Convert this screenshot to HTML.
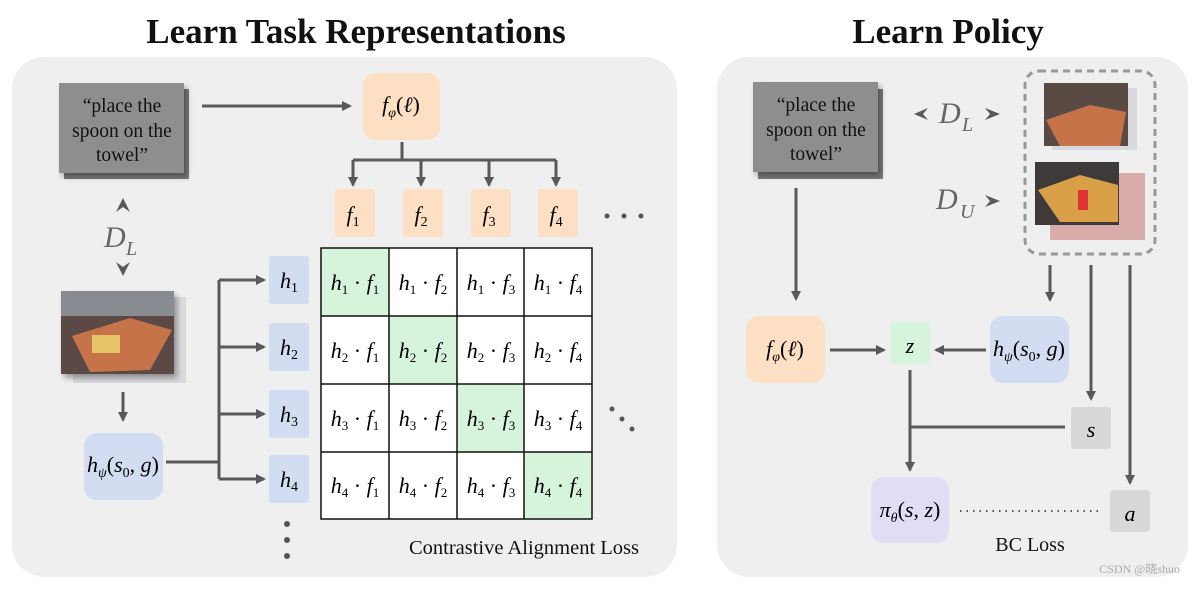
<!DOCTYPE html>
<html><head><meta charset="utf-8"><style>
body{margin:0;background:#fff;width:1195px;height:584px;overflow:hidden}
svg text{font-family:"Liberation Serif",serif}
.m{font-style:italic;font-size:22px}
.t{font-size:19.5px;fill:#111}
</style></head><body>
<svg width="1195" height="584" viewBox="0 0 1195 584" xmlns="http://www.w3.org/2000/svg">
<defs>
<marker id="ar" markerWidth="10" markerHeight="10" refX="8" refY="5" orient="auto" markerUnits="userSpaceOnUse"><path d="M0,0 L10,5 L0,10 Z" fill="#595959"/></marker>
<filter id="sh" x="-20%" y="-20%" width="150%" height="150%"><feDropShadow dx="3" dy="4" stdDeviation="3" flood-opacity="0.35"/></filter>
</defs>
<text x="356" y="43" text-anchor="middle" font-size="35" font-weight="bold" fill="#111">Learn Task Representations</text>
<text x="948" y="43" text-anchor="middle" font-size="35" font-weight="bold" fill="#111">Learn Policy</text>
<rect x="12" y="57" width="665" height="520" rx="32" fill="#efefef"/>
<rect x="717" y="57" width="471" height="520" rx="32" fill="#efefef"/>
<g stroke="#595959" stroke-width="3" fill="none">
<line x1="202" y1="106" x2="350" y2="106" marker-end="url(#ar)"/>
<line x1="402" y1="142" x2="402" y2="160"/>
<line x1="353" y1="160" x2="556" y2="160"/>
<line x1="353" y1="160" x2="353" y2="185" marker-end="url(#ar)"/>
<line x1="421" y1="160" x2="421" y2="185" marker-end="url(#ar)"/>
<line x1="489" y1="160" x2="489" y2="185" marker-end="url(#ar)"/>
<line x1="556" y1="160" x2="556" y2="185" marker-end="url(#ar)"/>
<line x1="166" y1="462" x2="219" y2="462"/>
<line x1="219" y1="280" x2="219" y2="479"/>
<line x1="219" y1="280" x2="264" y2="280" marker-end="url(#ar)"/>
<line x1="219" y1="347" x2="264" y2="347" marker-end="url(#ar)"/>
<line x1="219" y1="414" x2="264" y2="414" marker-end="url(#ar)"/>
<line x1="219" y1="479" x2="264" y2="479" marker-end="url(#ar)"/>
<line x1="123" y1="392" x2="123" y2="420" marker-end="url(#ar)"/>
<line x1="796" y1="188" x2="796" y2="299" marker-end="url(#ar)"/>
<line x1="830" y1="350" x2="884" y2="350" marker-end="url(#ar)"/>
<line x1="986" y1="350" x2="936" y2="350" marker-end="url(#ar)"/>
<line x1="1050" y1="265" x2="1050" y2="300" marker-end="url(#ar)"/>
<line x1="1091" y1="265" x2="1091" y2="399" marker-end="url(#ar)"/>
<line x1="1130" y1="265" x2="1130" y2="483" marker-end="url(#ar)"/>
<line x1="1065" y1="427" x2="910" y2="427"/>
<line x1="910" y1="370" x2="910" y2="470" marker-end="url(#ar)"/>
</g>
<line x1="960" y1="511" x2="1098" y2="511" stroke="#555" stroke-width="2" stroke-dasharray="1.5 5"/>
<rect x="64" y="89" width="125" height="90" fill="#7c7c7c"/>
<rect x="59" y="83" width="125" height="90" fill="#8e8e8e" filter="url(#sh)"/>
<text x="122" y="112" text-anchor="middle" class="t">“place the</text>
<text x="122" y="137" text-anchor="middle" class="t">spoon on the</text>
<text x="122" y="161" text-anchor="middle" class="t">towel”</text>
<path d="M116,212 L123,198 L130,212 L123,207 Z" fill="#595959"/>
<text x="104" y="247" font-size="30" font-style="italic" fill="#666">D</text><text x="126" y="255" font-size="20" font-style="italic" fill="#666">L</text>
<path d="M116,262 L123,276 L130,262 L123,267 Z" fill="#595959"/>
<rect x="73" y="297" width="113" height="86" fill="#c9ccd0" opacity="0.6"/>
<rect x="61" y="291" width="113" height="83" fill="#5a4a44" filter="url(#sh)"/>
<rect x="61" y="291" width="113" height="25" fill="#888c90"/>
<path d="M72,336 L130,318 L172,330 L150,370 L90,372 Z" fill="#c7734a"/>
<rect x="92" y="335" width="28" height="18" fill="#e5c46a"/>
<rect x="84" y="433" width="79" height="67" rx="13" fill="#d2ddf2"/>
<text x="123" y="472" text-anchor="middle" class="m">h<tspan font-size="14" dy="5">ψ</tspan><tspan dy="-5" font-style="normal">(</tspan>s<tspan font-size="14" dy="5" font-style="normal">0</tspan><tspan dy="-5" font-style="normal">, </tspan>g<tspan font-style="normal">)</tspan></text>
<rect x="363" y="73" width="77" height="67" rx="13" fill="#fde0c4"/>
<text x="401" y="112" text-anchor="middle" class="m">f<tspan font-size="14" dy="5">φ</tspan><tspan dy="-5" font-style="normal">(</tspan>ℓ<tspan font-style="normal">)</tspan></text>
<g fill="#fde0c4">
<rect x="335" y="189" width="40" height="48" rx="3"/><rect x="403" y="189" width="40" height="48" rx="3"/>
<rect x="471" y="189" width="40" height="48" rx="3"/><rect x="538" y="189" width="40" height="48" rx="3"/>
</g>
<text x="353" y="222" text-anchor="middle" class="m">f<tspan font-size="14" dy="4" font-style="normal">1</tspan></text>
<text x="421" y="222" text-anchor="middle" class="m">f<tspan font-size="14" dy="4" font-style="normal">2</tspan></text>
<text x="489" y="222" text-anchor="middle" class="m">f<tspan font-size="14" dy="4" font-style="normal">3</tspan></text>
<text x="556" y="222" text-anchor="middle" class="m">f<tspan font-size="14" dy="4" font-style="normal">4</tspan></text>
<g fill="#555"><circle cx="607" cy="216" r="2.5"/><circle cx="624" cy="216" r="2.5"/><circle cx="641" cy="216" r="2.5"/>
<circle cx="612" cy="409" r="2.5"/><circle cx="622" cy="419" r="2.5"/><circle cx="632" cy="429" r="2.5"/>
<circle cx="287" cy="524" r="3"/><circle cx="287" cy="540" r="3"/><circle cx="287" cy="556" r="3"/></g>
<g fill="#d2ddf2">
<rect x="269" y="256" width="40" height="48" rx="3"/><rect x="269" y="323" width="40" height="48" rx="3"/>
<rect x="269" y="390" width="40" height="48" rx="3"/><rect x="269" y="455" width="40" height="48" rx="3"/>
</g>
<text x="289" y="288" text-anchor="middle" class="m">h<tspan font-size="14" dy="4" font-style="normal">1</tspan></text>
<text x="289" y="355" text-anchor="middle" class="m">h<tspan font-size="14" dy="4" font-style="normal">2</tspan></text>
<text x="289" y="422" text-anchor="middle" class="m">h<tspan font-size="14" dy="4" font-style="normal">3</tspan></text>
<text x="289" y="487" text-anchor="middle" class="m">h<tspan font-size="14" dy="4" font-style="normal">4</tspan></text>
<rect x="321" y="248" width="271" height="271" fill="#fff"/>
<rect x="321" y="248" width="68" height="68" fill="#d6f3dc"/>
<rect x="389" y="316" width="68" height="68" fill="#d6f3dc"/>
<rect x="457" y="384" width="67" height="68" fill="#d6f3dc"/>
<rect x="524" y="452" width="68" height="67" fill="#d6f3dc"/>
<g stroke="#111" stroke-width="1.5" fill="none">
<rect x="321" y="248" width="271" height="271"/>
<line x1="389" y1="248" x2="389" y2="519"/><line x1="457" y1="248" x2="457" y2="519"/><line x1="524" y1="248" x2="524" y2="519"/>
<line x1="321" y1="316" x2="592" y2="316"/><line x1="321" y1="384" x2="592" y2="384"/><line x1="321" y1="452" x2="592" y2="452"/>
</g>
<g text-anchor="middle">
<text x="355" y="290" class="m">h<tspan font-size="13" dy="4" font-style="normal">1</tspan><tspan dy="-4" font-style="normal"> · </tspan>f<tspan font-size="13" dy="4" font-style="normal">1</tspan></text>
<text x="423" y="290" class="m">h<tspan font-size="13" dy="4" font-style="normal">1</tspan><tspan dy="-4" font-style="normal"> · </tspan>f<tspan font-size="13" dy="4" font-style="normal">2</tspan></text>
<text x="491" y="290" class="m">h<tspan font-size="13" dy="4" font-style="normal">1</tspan><tspan dy="-4" font-style="normal"> · </tspan>f<tspan font-size="13" dy="4" font-style="normal">3</tspan></text>
<text x="558" y="290" class="m">h<tspan font-size="13" dy="4" font-style="normal">1</tspan><tspan dy="-4" font-style="normal"> · </tspan>f<tspan font-size="13" dy="4" font-style="normal">4</tspan></text>
<text x="355" y="358" class="m">h<tspan font-size="13" dy="4" font-style="normal">2</tspan><tspan dy="-4" font-style="normal"> · </tspan>f<tspan font-size="13" dy="4" font-style="normal">1</tspan></text>
<text x="423" y="358" class="m">h<tspan font-size="13" dy="4" font-style="normal">2</tspan><tspan dy="-4" font-style="normal"> · </tspan>f<tspan font-size="13" dy="4" font-style="normal">2</tspan></text>
<text x="491" y="358" class="m">h<tspan font-size="13" dy="4" font-style="normal">2</tspan><tspan dy="-4" font-style="normal"> · </tspan>f<tspan font-size="13" dy="4" font-style="normal">3</tspan></text>
<text x="558" y="358" class="m">h<tspan font-size="13" dy="4" font-style="normal">2</tspan><tspan dy="-4" font-style="normal"> · </tspan>f<tspan font-size="13" dy="4" font-style="normal">4</tspan></text>
<text x="355" y="426" class="m">h<tspan font-size="13" dy="4" font-style="normal">3</tspan><tspan dy="-4" font-style="normal"> · </tspan>f<tspan font-size="13" dy="4" font-style="normal">1</tspan></text>
<text x="423" y="426" class="m">h<tspan font-size="13" dy="4" font-style="normal">3</tspan><tspan dy="-4" font-style="normal"> · </tspan>f<tspan font-size="13" dy="4" font-style="normal">2</tspan></text>
<text x="491" y="426" class="m">h<tspan font-size="13" dy="4" font-style="normal">3</tspan><tspan dy="-4" font-style="normal"> · </tspan>f<tspan font-size="13" dy="4" font-style="normal">3</tspan></text>
<text x="558" y="426" class="m">h<tspan font-size="13" dy="4" font-style="normal">3</tspan><tspan dy="-4" font-style="normal"> · </tspan>f<tspan font-size="13" dy="4" font-style="normal">4</tspan></text>
<text x="355" y="493" class="m">h<tspan font-size="13" dy="4" font-style="normal">4</tspan><tspan dy="-4" font-style="normal"> · </tspan>f<tspan font-size="13" dy="4" font-style="normal">1</tspan></text>
<text x="423" y="493" class="m">h<tspan font-size="13" dy="4" font-style="normal">4</tspan><tspan dy="-4" font-style="normal"> · </tspan>f<tspan font-size="13" dy="4" font-style="normal">2</tspan></text>
<text x="491" y="493" class="m">h<tspan font-size="13" dy="4" font-style="normal">4</tspan><tspan dy="-4" font-style="normal"> · </tspan>f<tspan font-size="13" dy="4" font-style="normal">3</tspan></text>
<text x="558" y="493" class="m">h<tspan font-size="13" dy="4" font-style="normal">4</tspan><tspan dy="-4" font-style="normal"> · </tspan>f<tspan font-size="13" dy="4" font-style="normal">4</tspan></text>
</g>
<text x="524" y="554" text-anchor="middle" font-size="20.5" fill="#111">Contrastive Alignment Loss</text>
<rect x="758" y="89" width="125" height="90" fill="#7c7c7c"/>
<rect x="753" y="82" width="125" height="90" fill="#8e8e8e" filter="url(#sh)"/>
<text x="816" y="111" text-anchor="middle" class="t">“place the</text>
<text x="816" y="136" text-anchor="middle" class="t">spoon on the</text>
<text x="816" y="160" text-anchor="middle" class="t">towel”</text>
<path d="M928,108 L914,114 L928,120 L923,114 Z" fill="#595959"/>
<text x="939" y="123" font-size="30" font-style="italic" fill="#666">D</text><text x="962" y="131" font-size="20" font-style="italic" fill="#666">L</text>
<path d="M985,108 L1000,114 L985,120 L990,114 Z" fill="#595959"/>
<text x="936" y="209" font-size="30" font-style="italic" fill="#666">D</text><text x="960" y="218" font-size="20" font-style="italic" fill="#666">U</text>
<path d="M985,195 L1000,201 L985,207 L990,201 Z" fill="#595959"/>
<rect x="1025" y="71" width="130" height="183" rx="14" fill="none" stroke="#999" stroke-width="3" stroke-dasharray="7 5"/>
<rect x="1052" y="88" width="85" height="62" fill="#c9ccd0" opacity="0.6"/>
<rect x="1044" y="83" width="84" height="63" fill="#5a4a44"/>
<path d="M1046,120 L1090,105 L1126,112 L1120,146 L1060,146 Z" fill="#c7734a"/>
<rect x="1050" y="173" width="95" height="67" fill="#c8807a" opacity="0.6"/>
<rect x="1035" y="162" width="84" height="63" fill="#3e3a3a"/>
<path d="M1038,190 L1080,175 L1118,185 L1118,222 L1060,222 Z" fill="#d9a048"/>
<rect x="1078" y="190" width="10" height="20" fill="#d33"/>
<rect x="746" y="316" width="79" height="67" rx="13" fill="#fde0c4"/>
<text x="785" y="356" text-anchor="middle" class="m">f<tspan font-size="14" dy="5">φ</tspan><tspan dy="-5" font-style="normal">(</tspan>ℓ<tspan font-style="normal">)</tspan></text>
<rect x="890" y="322" width="40" height="42" rx="3" fill="#d6f3dc"/>
<text x="910" y="353" text-anchor="middle" class="m">z</text>
<rect x="990" y="316" width="79" height="67" rx="13" fill="#d2ddf2"/>
<text x="1029" y="356" text-anchor="middle" class="m">h<tspan font-size="14" dy="5">ψ</tspan><tspan dy="-5" font-style="normal">(</tspan>s<tspan font-size="14" dy="5" font-style="normal">0</tspan><tspan dy="-5" font-style="normal">, </tspan>g<tspan font-style="normal">)</tspan></text>
<rect x="1071" y="407" width="40" height="42" rx="3" fill="#d8d8d8"/>
<text x="1091" y="437" text-anchor="middle" class="m">s</text>
<rect x="871" y="477" width="78" height="66" rx="13" fill="#e2dcf4"/>
<text x="910" y="517" text-anchor="middle" class="m">π<tspan font-size="14" dy="5">θ</tspan><tspan dy="-5" font-style="normal">(</tspan>s<tspan font-style="normal">, </tspan>z<tspan font-style="normal">)</tspan></text>
<rect x="1110" y="490" width="40" height="42" rx="3" fill="#d8d8d8"/>
<text x="1130" y="521" text-anchor="middle" class="m">a</text>
<text x="1030" y="551" text-anchor="middle" font-size="20" fill="#111">BC Loss</text>
<text x="1180" y="573" text-anchor="end" font-family="Liberation Sans, 'Noto Sans CJK SC', sans-serif" font-size="12" fill="#aaa">CSDN @晓shuo</text>
</svg>
</body></html>
